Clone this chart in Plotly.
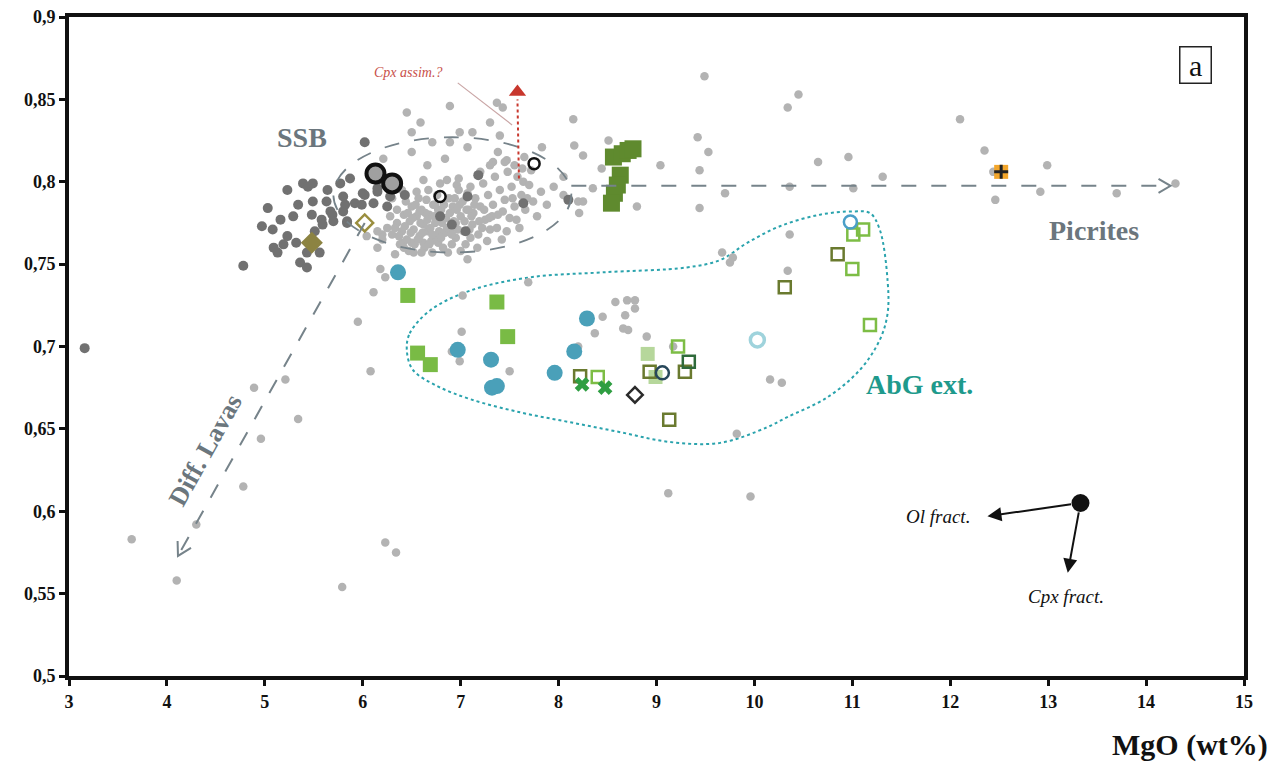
import plotly.graph_objects as go

# ---------------- data ----------------
# light grey dots (all samples)
light_x = [3.64, 4.10, 5.79, 6.23, 6.34, 4.78, 4.30, 4.96, 5.34, 4.89, 5.21, 5.95, 6.08,
           6.11, 6.18, 6.23, 7.07, 7.02, 7.69, 7.01, 6.99, 6.91, 7.50, 8.45, 8.37, 8.58, 8.70, 8.78, 8.78, 8.68, 8.66, 8.71, 8.90, 8.20, 9.17,
           9.70, 10.36, 11.01, 8.80, 9.44, 10.36, 9.67, 9.78, 9.75, 10.34, 10.16, 10.28,
           10.65, 10.96, 11.31, 12.35, 12.44, 12.99, 12.46, 12.92, 13.70, 14.30, 12.10,
           9.49, 10.45, 10.34, 8.15, 8.16, 8.25, 8.51, 9.42, 9.53, 8.44, 9.04, 9.44, 8.35, 8.21, 8.20, 8.25,
           9.12, 9.96, 9.82,
           6.89, 6.45, 7.37, 7.43, 6.59, 7.30, 6.99, 7.12, 6.50, 7.40, 6.89, 6.71, 7.07, 7.83, 6.50, 6.84, 7.38, 7.47, 7.33, 6.21, 6.66, 8.05, 7.64, 6.62, 6.86, 6.96, 8.05,
           6.04, 6.15, 6.20, 6.41, 6.50, 6.62, 6.77,
           6.25, 6.30, 6.35, 6.40, 6.42, 6.45, 6.48, 6.50, 6.52, 6.55, 6.58, 6.60, 6.62, 6.65, 6.66, 6.68, 6.70, 6.72, 6.74, 6.76,
           6.78, 6.80, 6.82, 6.85, 6.88, 6.90, 6.92, 6.95, 6.98, 7.00, 7.02, 7.05, 7.08, 7.10, 7.12, 7.15, 7.18, 7.20, 7.23, 7.25,
           7.28, 7.30, 7.33, 7.35, 7.38, 7.40, 7.42, 7.45, 7.48, 7.50, 7.52, 7.55, 7.58, 7.60, 7.62, 7.66, 7.70, 7.74, 7.78, 7.82,
           7.88, 7.95, 6.35, 6.38, 6.44, 6.47, 6.53, 6.57, 6.63, 6.67, 6.71, 6.75, 6.79, 6.84, 6.87, 6.93, 6.96, 7.03, 7.07, 7.13,
           7.17, 7.22, 7.27, 7.32, 7.37, 7.43, 7.47, 7.53, 7.57, 7.63, 7.68, 7.72, 6.55, 6.60, 6.28, 6.33, 6.20, 6.15, 6.40, 6.91,
           7.00, 7.10, 6.98, 7.20, 7.45, 7.55, 7.65, 7.30,
           6.30, 6.33, 6.37, 6.43, 6.46, 6.49, 6.51, 6.54, 6.56, 6.59, 6.61, 6.64, 6.66, 6.69, 6.71, 6.73, 6.77, 6.81, 6.83, 6.86,
           6.89, 6.91, 6.94, 6.97, 6.99, 7.04, 7.06, 7.09, 7.14, 7.19, 7.24, 7.29, 6.42, 6.52, 6.68, 6.58, 6.74, 6.80, 6.95, 7.11]
light_y = [0.583, 0.558, 0.554, 0.581, 0.575, 0.615, 0.592, 0.644, 0.656, 0.675, 0.680, 0.715, 0.685,
           0.733, 0.747, 0.742, 0.753, 0.731, 0.739, 0.709, 0.691, 0.697, 0.685, 0.718, 0.708, 0.727, 0.728, 0.728, 0.723, 0.719, 0.711, 0.710, 0.706, 0.700, 0.700,
           0.793, 0.797, 0.796, 0.785, 0.784, 0.768, 0.757, 0.754, 0.751, 0.746, 0.680, 0.678,
           0.812, 0.815, 0.803, 0.819, 0.806, 0.810, 0.789, 0.794, 0.793, 0.799, 0.838,
           0.864, 0.853, 0.845, 0.838, 0.822, 0.816, 0.825, 0.827, 0.818, 0.808, 0.810, 0.807, 0.796, 0.781, 0.788, 0.788,
           0.611, 0.609, 0.647,
           0.846, 0.842, 0.848, 0.845, 0.836, 0.836, 0.830, 0.830, 0.830, 0.828, 0.824, 0.824, 0.821, 0.821, 0.818, 0.814, 0.818, 0.813, 0.812, 0.814, 0.810, 0.803, 0.800, 0.801, 0.801, 0.798, 0.792,
           0.767, 0.760, 0.768, 0.763, 0.763, 0.763, 0.763,
           0.772, 0.768, 0.775, 0.770, 0.780, 0.765, 0.776, 0.785, 0.771, 0.779, 0.767, 0.783, 0.774, 0.789, 0.770, 0.780, 0.764, 0.786, 0.775, 0.792,
           0.770, 0.783, 0.760, 0.778, 0.790, 0.772, 0.785, 0.766, 0.795, 0.779, 0.788, 0.762, 0.783, 0.797, 0.774, 0.790, 0.768, 0.785, 0.799, 0.777,
           0.792, 0.771, 0.786, 0.803, 0.780, 0.795, 0.765, 0.789, 0.806, 0.778, 0.797, 0.785, 0.803, 0.772, 0.792, 0.783, 0.798, 0.788, 0.779, 0.794,
           0.786, 0.797, 0.783, 0.762, 0.788, 0.758, 0.762, 0.790, 0.760, 0.795, 0.757, 0.766, 0.799, 0.769, 0.757, 0.776, 0.783, 0.770, 0.793, 0.781,
           0.760, 0.772, 0.764, 0.779, 0.772, 0.782, 0.770, 0.790, 0.777, 0.808, 0.790, 0.807, 0.794, 0.757, 0.779, 0.756, 0.765, 0.770, 0.795, 0.762,
           0.758, 0.766, 0.802, 0.806, 0.812, 0.810, 0.815, 0.810,
           0.790, 0.772, 0.767, 0.773, 0.781, 0.769, 0.778, 0.786, 0.765, 0.775, 0.769, 0.781, 0.777, 0.772, 0.768, 0.779, 0.783, 0.775, 0.786, 0.772,
           0.781, 0.768, 0.790, 0.771, 0.786, 0.776, 0.783, 0.771, 0.786, 0.776, 0.783, 0.778, 0.760, 0.757, 0.762, 0.782, 0.786, 0.766, 0.775, 0.779]

# dark grey dots (SSB lavas)
dark_x = [3.16, 5.23, 5.39, 5.44, 5.49, 5.64, 5.77, 5.87, 5.03, 5.34, 5.49, 5.63, 5.80, 6.00, 5.16, 5.29, 5.48, 5.58, 5.69, 5.80,
          5.92, 4.97, 5.08, 5.23, 5.32, 5.51, 5.59, 5.70, 5.84, 5.09, 5.13, 5.19, 5.43, 5.56, 5.36, 5.43, 4.78, 6.15, 6.11,
          6.02, 6.25, 6.43, 6.28, 6.15, 6.02, 5.99, 5.82, 5.67, 5.84, 6.79, 6.91, 7.05, 7.07, 7.18, 7.64, 8.10, 6.15]
dark_y = [0.699, 0.795, 0.799, 0.797, 0.799, 0.795, 0.799, 0.802, 0.784, 0.786, 0.788, 0.788, 0.791, 0.793, 0.777, 0.779, 0.780, 0.777, 0.780, 0.782,
          0.787, 0.773, 0.771, 0.767, 0.763, 0.770, 0.774, 0.776, 0.776, 0.760, 0.757, 0.762, 0.757, 0.757, 0.751, 0.748, 0.749, 0.794, 0.787,
          0.824, 0.785, 0.792, 0.791, 0.796, 0.792, 0.786, 0.786, 0.782, 0.775, 0.779, 0.774, 0.770, 0.791, 0.804, 0.787, 0.789, 0.801]

blue_x = [6.36, 6.97, 7.31, 7.32, 7.37, 7.96, 8.16, 8.29]
blue_y = [0.745, 0.698, 0.692, 0.675, 0.676, 0.684, 0.697, 0.717]

lgreen_sq_x = [6.46, 7.37, 7.48, 6.56, 6.69]
lgreen_sq_y = [0.731, 0.727, 0.706, 0.696, 0.689]

dgreen_sq_x = [8.56, 8.65, 8.71, 8.76, 8.63, 8.60, 8.57, 8.54]
dgreen_sq_y = [0.815, 0.817, 0.819, 0.820, 0.804, 0.798, 0.793, 0.787]

pale_sq_x = [8.91, 8.99]
pale_sq_y = [0.6955, 0.6815]

lgreen_open_x = [8.40, 9.22, 11.00, 11.01, 11.11, 11.18]
lgreen_open_y = [0.6815, 0.700, 0.747, 0.768, 0.771, 0.713]

olive_open_x = [8.22, 8.93, 9.29, 9.13, 10.31, 10.85]
olive_open_y = [0.682, 0.6846, 0.6846, 0.6555, 0.736, 0.756]

dkgreen_open_x = [9.33]
dkgreen_open_y = [0.6907]

green_x_x = [8.24, 8.475]
green_x_y = [0.677, 0.675]

big_ring_x = [6.13, 6.30]
big_ring_y = [0.805, 0.799]

small_ring_x = [6.79, 7.75]
small_ring_y = [0.791, 0.811]

olive_diam_open_x = [6.02]
olive_diam_open_y = [0.775]
olive_diam_x = [5.48]
olive_diam_y = [0.763]

dark_diam_x = [8.78]
dark_diam_y = [0.6706]

blue_ring_x = [10.98]
blue_ring_y = [0.7756]
cyan_ring_x = [10.03]
cyan_ring_y = [0.704]
navy_ring_x = [9.06]
navy_ring_y = [0.684]

orange_x = [12.52]
orange_y = [0.806]

# AbG ext. outline
abg_x = [6.45, 6.48, 6.69, 7.10, 7.71, 8.45, 9.31, 9.65, 9.93, 10.26, 10.67, 11.01, 11.18, 11.28, 11.36, 11.36,
         11.28, 11.08, 10.74, 10.33, 10.13, 9.65, 9.14, 8.63, 8.12, 7.61, 7.10, 6.76, 6.51, 6.45]
abg_y = [0.698, 0.708, 0.722, 0.734, 0.742, 0.745, 0.748, 0.7525, 0.763, 0.773, 0.780, 0.782, 0.781, 0.771, 0.740, 0.720,
         0.704, 0.686, 0.669, 0.657, 0.651, 0.6415, 0.642, 0.648, 0.654, 0.660, 0.668, 0.676, 0.686, 0.698]

y_ticks = [0.5, 0.55, 0.6, 0.65, 0.7, 0.75, 0.8, 0.85, 0.9]
y_ticktext = ["0,5", "0,55", "0,6", "0,65", "0,7", "0,75", "0,8", "0,85", "0,9"]
x_ticks = list(range(3, 16))

SERIF = "Liberation Serif"
GREY_TXT = "#6b767d"
LINE_GREY = "#76838a"

fig = go.Figure()

def add(x, y, symbol, color, size, lw=0, lc=None, opacity=1.0):
    fig.add_trace(go.Scatter(
        x=x, y=y, mode="markers", showlegend=False, hoverinfo="skip",
        marker=dict(symbol=symbol, color=color, size=size, opacity=opacity,
                    line=dict(width=lw, color=lc if lc else color))))

# AbG outline
fig.add_trace(go.Scatter(x=abg_x, y=abg_y, mode="lines", showlegend=False, hoverinfo="skip",
                         line=dict(color="#2aa3ad", width=2, dash="dot", shape="spline", smoothing=1.0)))

add(light_x, light_y, "circle", "#b3b3b3", 8.5)
add(dark_x, dark_y, "circle", "#717171", 10)
add(olive_diam_x, olive_diam_y, "diamond", "#8c8342", 17)
add(olive_diam_open_x, olive_diam_open_y, "diamond-open", "#9a8e3e", 13, lw=2.5)
add(big_ring_x, big_ring_y, "circle", "#a0a0a0", 18, lw=4, lc="#111111")
add(small_ring_x, small_ring_y, "circle-open", "#111111", 11, lw=2.5)
add(dgreen_sq_x, dgreen_sq_y, "square", "#5f8a2e", 17)
add(blue_x, blue_y, "circle", "#4aa0b9", 16)
add(lgreen_sq_x, lgreen_sq_y, "square", "#79bb45", 15)
add(pale_sq_x, pale_sq_y, "square", "#b6d79b", 14)
add(olive_open_x, olive_open_y, "square-open", "#6a7a2f", 12, lw=2.5)
add(lgreen_open_x, lgreen_open_y, "square-open", "#7dbd45", 12, lw=2.5)
add(dkgreen_open_x, dkgreen_open_y, "square-open", "#2e6a3a", 12, lw=2.5)
add(green_x_x, green_x_y, "x", "#2f9e42", 13)
add(dark_diam_x, dark_diam_y, "diamond-open", "#2b2b2b", 12, lw=2.5)
add(navy_ring_x, navy_ring_y, "circle-open", "#27475a", 13, lw=2.5)
add(blue_ring_x, blue_ring_y, "circle-open", "#4a9fc8", 13, lw=2.5)
add(cyan_ring_x, cyan_ring_y, "circle-open", "#9fd3dc", 14, lw=3.5)
add(orange_x, orange_y, "square", "#f3a62b", 14)
add(orange_x, orange_y, "cross-thin-open", "#222222", 10, lw=3)

# Cpx assim. arrow head (red) and reference point for fractionation vectors
add([7.58], [0.8545], "triangle-up", "#c8372d", 15)
add([13.33], [0.605], "circle", "#111111", 18)

shapes = [
    # SSB ellipse
    dict(type="circle", xref="x", yref="y", x0=5.70, x1=8.13, y0=0.757, y1=0.827,
         line=dict(color=LINE_GREY, width=1.8, dash="longdash")),
    # Picrites trend
    dict(type="line", xref="x", yref="y", x0=8.13, y0=0.7975, x1=14.25, y1=0.7975,
         line=dict(color=LINE_GREY, width=2, dash="longdash")),
    dict(type="path", xref="x", yref="y", path="M 14.127,0.80175 L 14.25,0.7975 L 14.127,0.79325",
         line=dict(color=LINE_GREY, width=2)),
    # Diff. Lavas trend
    dict(type="line", xref="x", yref="y", x0=6.02, y0=0.775, x1=4.113, y1=0.5729,
         line=dict(color=LINE_GREY, width=2, dash="longdash")),
    dict(type="path", xref="x", yref="y", path="M 4.246,0.5778 L 4.113,0.5729 L 4.109,0.5820",
         line=dict(color=LINE_GREY, width=2)),
    # red dotted arrow
    dict(type="line", xref="x", yref="y", x0=7.595, y0=0.802, x1=7.58, y1=0.850,
         line=dict(color="#c8372d", width=2, dash="dot")),
    # leader line for Cpx assim.
    dict(type="line", xref="x", yref="y", x0=6.97, y0=0.860, x1=7.525, y1=0.8345,
         line=dict(color="#c9a5a5", width=1.2)),
]

annotations = [
    dict(x=5.38, y=0.827, xref="x", yref="y", text="SSB", showarrow=False,
         font=dict(family=SERIF, size=28, color=GREY_TXT, weight="bold")),
    dict(x=13.47, y=0.7707, xref="x", yref="y", text="Picrites", showarrow=False,
         font=dict(family=SERIF, size=28, color=GREY_TXT, weight="bold")),
    dict(x=11.69, y=0.6767, xref="x", yref="y", text="AbG ext.", showarrow=False,
         font=dict(family=SERIF, size=28, color="#1e9a8c", weight="bold")),
    dict(x=4.39, y=0.637, xref="x", yref="y", text="Diff. Lavas", showarrow=False, textangle=-61,
         font=dict(family=SERIF, size=26, color=GREY_TXT, weight="bold")),
    dict(x=6.46, y=0.8666, xref="x", yref="y", text="<i>Cpx assim.?</i>", showarrow=False,
         font=dict(family=SERIF, size=14, color="#c8504a")),
    dict(x=14.50, y=0.871, xref="x", yref="y", text=" a ", showarrow=False,
         font=dict(family=SERIF, size=30, color="#111111"),
         bordercolor="#222222", borderwidth=1.5, borderpad=1, bgcolor="white"),
    dict(x=11.87, y=0.5966, xref="x", yref="y", text="<i>Ol fract.</i>", showarrow=False,
         font=dict(family=SERIF, size=19, color="#111111")),
    dict(x=13.18, y=0.548, xref="x", yref="y", text="<i>Cpx fract.</i>", showarrow=False,
         font=dict(family=SERIF, size=19, color="#111111")),
    # fractionation arrows
    dict(x=12.38, y=0.597, ax=13.33, ay=0.605, xref="x", yref="y", axref="x", ayref="y", text="",
         showarrow=True, arrowhead=2, arrowsize=1.4, arrowwidth=2, arrowcolor="#111111", startstandoff=8),
    dict(x=13.20, y=0.5626, ax=13.33, ay=0.605, xref="x", yref="y", axref="x", ayref="y", text="",
         showarrow=True, arrowhead=2, arrowsize=1.4, arrowwidth=2, arrowcolor="#111111", startstandoff=8),
    # axis title
    dict(x=1.022, y=-0.105, xref="paper", yref="paper", text="MgO (wt%)", showarrow=False,
         xanchor="right", yanchor="middle",
         font=dict(family=SERIF, size=30, color="#111111", weight="bold")),
]

# the page adds an 8 px body margin, so the figure is sized / offset to compensate
fig.update_layout(
    width=1268, height=759,
    margin=dict(l=61, r=32, t=9, b=91, autoexpand=False),
    paper_bgcolor="white", plot_bgcolor="white",
    shapes=shapes, annotations=annotations,
    xaxis=dict(range=[3, 15], tickvals=x_ticks, showgrid=False, zeroline=False, automargin=False,
               showline=True, linecolor="#111111", linewidth=4, mirror=True,
               ticks="outside", ticklen=6, tickwidth=3, tickcolor="#111111", ticklabeloverflow="allow",
               tickfont=dict(family=SERIF, size=18, color="#111111", weight="bold")),
    yaxis=dict(range=[0.5, 0.9], tickvals=y_ticks, ticktext=y_ticktext, showgrid=False, zeroline=False, automargin=False,
               showline=True, linecolor="#111111", linewidth=4, mirror=True,
               ticks="outside", ticklen=6, tickwidth=3, tickcolor="#111111", ticklabeloverflow="allow",
               tickfont=dict(family=SERIF, size=18, color="#111111", weight="bold")),
)

fig.write_html("out.html")
